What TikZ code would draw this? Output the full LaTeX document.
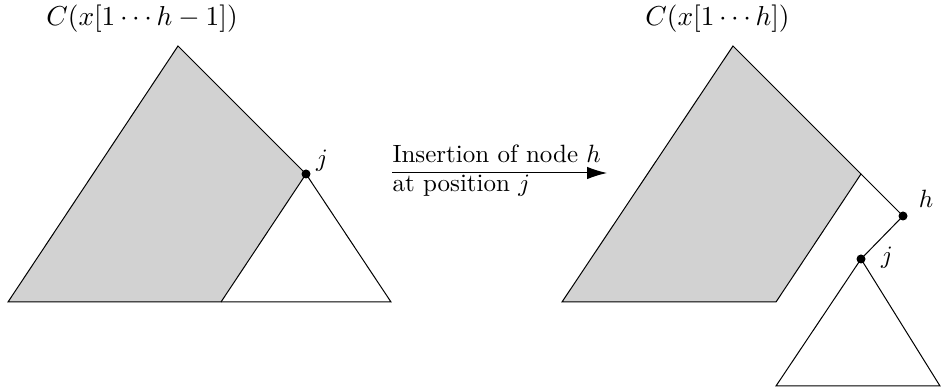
\documentclass[tikz,border=0pt]{standalone}
\usepackage{amsmath,amssymb}
\usetikzlibrary{arrows.meta}

\begin{document}
\begin{tikzpicture}[x=0.4pt, y=-0.4pt, >={Latex[length=8pt,width=5pt]},
	vtx/.style={circle, fill, inner sep=0pt, minimum size=3.6pt},
	shaded/.style={fill=gray!35, draw=black},
	title/.style={font=\fontsize{10.6pt}{13pt}\selectfont}]
	\useasboundingbox (0,0) rectangle (941,391);
	% tree before the insertion
	\coordinate (r1) at (178,46);
	\coordinate (bl1) at (8,302);
	\coordinate (bm1) at (221,302);
	\coordinate (br1) at (391,302);
	\coordinate (j1) at (306,174);
	\draw[shaded] (r1) -- (bl1) -- (bm1) -- (j1) -- cycle;
	\draw (j1) -- (br1) -- (bm1);
	\node[vtx] (dj1) at (j1) {};
	\node (lj1) at (322,161) {$j$};
	\node[title] (lbl1) at (142,19) {$C(x[1\cdots h-1])$};
	% the step
	\coordinate (arrS) at (392,173);
	\coordinate (arrE) at (607,173);
	\draw[->] (arrS) -- (arrE);
	\node[anchor=base west, inner sep=0pt] (ins) at (392,163) {Insertion of node $h$};
	\node[anchor=base west, inner sep=0pt] (pos) at (392,192) {at position $j$};
	% tree after the insertion
	\coordinate (r2) at (733,46);
	\coordinate (bl2) at (562,302);
	\coordinate (bm2) at (776,302);
	\coordinate (c2) at (861,174);
	\coordinate (h2) at (903,216);
	\coordinate (j2) at (861,259);
	\coordinate (tl2) at (776,386);
	\coordinate (tr2) at (940,386);
	\draw[shaded] (r2) -- (bl2) -- (bm2) -- (c2) -- cycle;
	\draw (c2) -- (h2) -- (j2);
	\draw (j2) -- (tl2) -- (tr2) -- cycle;
	\node[vtx] (dh2) at (h2) {};
	\node[vtx] (dj2) at (j2) {};
	\node (lh2) at (926,199) {$h$};
	\node (lj2) at (887,258) {$j$};
	\node[title] (lbl2) at (717.5,19) {$C(x[1\cdots h])$};
\end{tikzpicture}
\end{document}
